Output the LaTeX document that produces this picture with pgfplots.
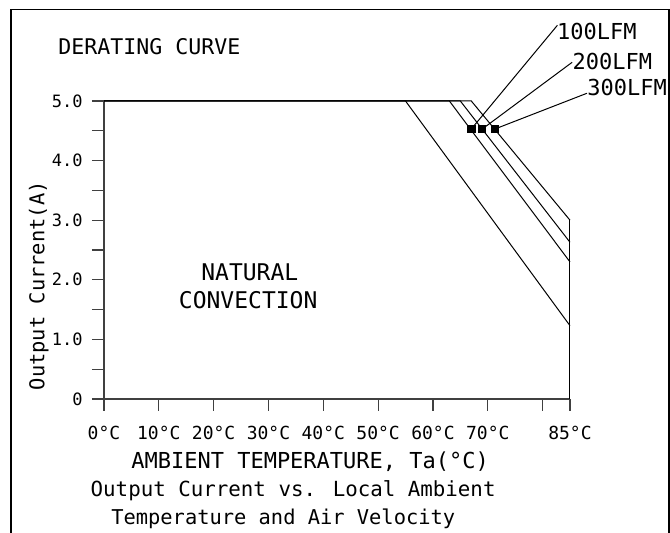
\documentclass[border=0pt]{standalone}
\usepackage{fontspec}
\setmainfont{DejaVu Sans Mono}
\usepackage{pgfplots}
\pgfplotsset{compat=1.18}
\begin{document}
\begin{tikzpicture}
\path[use as bounding box] (0,0) rectangle (335pt,266.5pt);
\draw[line width=0.8pt] (5.5pt,-5pt) -- (5.5pt,261.75pt) -- (334.5pt,261.75pt) -- (334.5pt,-5pt);
\begin{axis}[
  at={(52pt,67pt)}, anchor=south west,
  scale only axis, width=233pt, height=149pt,
  xmin=0, xmax=85, ymin=0, ymax=5,
  axis lines=left, axis line style={-, black!75, line width=0.6pt},
  clip=false,
  tick align=outside, major tick length=6pt,
  tick style={black!75, line width=0.6pt},
  xtick={0,10,20,30,40,50,60,70,80,85},
  xticklabels={0°C,10°C,20°C,30°C,40°C,50°C,60°C,70°C,,85°C},
  ytick={0,0.5,1,1.5,2,2.5,3,3.5,4,4.5,5},
  yticklabels={0,,1.0,,2.0,,3.0,,4.0,,5.0},
  xticklabel style={font=\fontsize{9}{10}\selectfont, anchor=north, inner sep=0pt, yshift=-7.5pt},
  yticklabel style={font=\fontsize{8.5}{10}\selectfont, anchor=east, inner sep=0pt, xshift=-4.5pt},
  xlabel={AMBIENT TEMPERATURE, Ta(°C)},
  xlabel style={at={(axis cs:37.6,-1.06)}, anchor=center, font=\fontsize{11}{12}\selectfont, inner sep=0pt},
  ylabel={Output Current(A)},
  ylabel style={at={(axis cs:-11.9,1.9)}, anchor=center, font=\fontsize{10.2}{12}\selectfont, inner sep=0pt},
]
% derating curves
\addplot[black, line width=0.5pt] coordinates {(0,5) (55,5) (85,1.23)};
\addplot[black, line width=0.5pt] coordinates {(0,5) (63,5) (85,2.30)};
\addplot[black, line width=0.5pt] coordinates {(0,5) (65,5) (85,2.63)};
\addplot[black, line width=0.5pt] coordinates {(0,5) (67,5) (85,3.00)};
% right boundary
\addplot[black, line width=0.5pt] coordinates {(85,0) (85,3.00)};
% leader lines
\addplot[black, line width=0.5pt] coordinates {(67.0,4.53) (82.7,6.27)};
\addplot[black, line width=0.5pt] coordinates {(69.0,4.53) (85.4,5.65)};
\addplot[black, line width=0.5pt] coordinates {(71.3,4.53) (88.1,5.13)};
% markers
\addplot[only marks, mark=square*, mark size=1.8pt, black] coordinates {(67.0,4.53) (69.0,4.53) (71.3,4.53)};
% labels
\node[anchor=west, inner sep=0pt, font=\fontsize{11}{12}\selectfont] at (axis cs:82.6,6.17) {100LFM};
\node[anchor=west, inner sep=0pt, font=\fontsize{11}{12}\selectfont] at (axis cs:85.4,5.67) {200LFM};
\node[anchor=west, inner sep=0pt, font=\fontsize{11}{12}\selectfont] at (axis cs:88.1,5.22) {300LFM};
\node[anchor=west, inner sep=0pt, font=\fontsize{10.8}{12}\selectfont] at (axis cs:-8.4,5.91) {DERATING CURVE};
\node[anchor=center, inner sep=0pt, font=\fontsize{11.5}{12}\selectfont] at (axis cs:26.6,2.13) {NATURAL};
\node[anchor=center, inner sep=0pt, font=\fontsize{11.5}{12}\selectfont] at (axis cs:26.3,1.66) {CONVECTION};
\node[anchor=center, inner sep=0pt, font=\fontsize{10.4}{12}\selectfont] at (axis cs:34.5,-1.54) {Output Current vs. Local Ambient};
\node[anchor=center, inner sep=0pt, font=\fontsize{10.2}{12}\selectfont] at (axis cs:32.7,-2.01) {Temperature and Air Velocity};
\end{axis}
\end{tikzpicture}
\end{document}
